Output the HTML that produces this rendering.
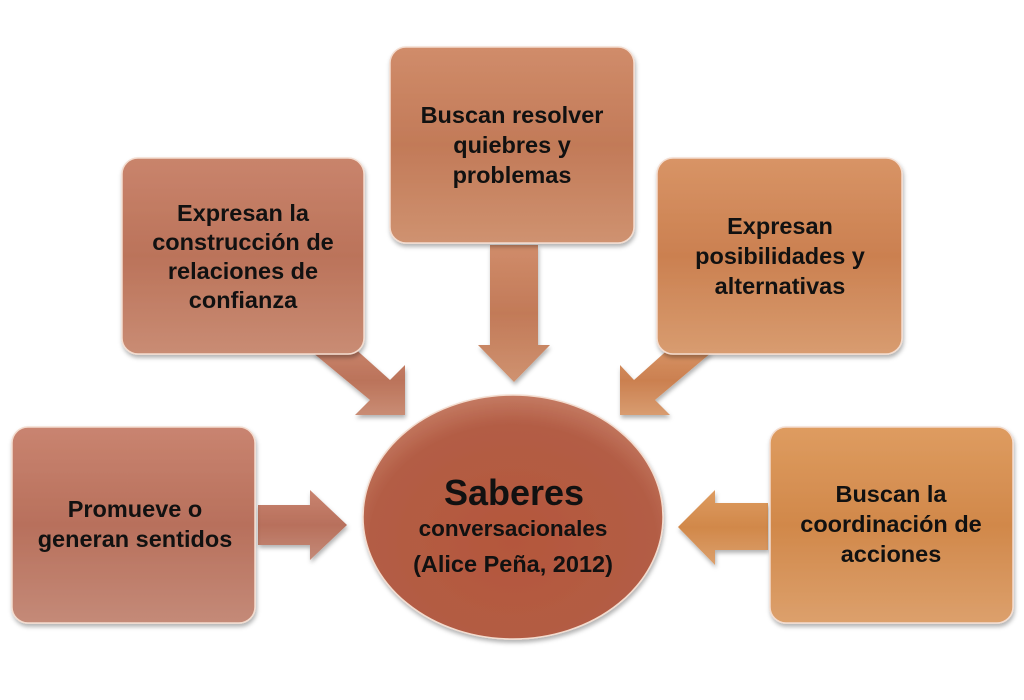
<!DOCTYPE html>
<html><head><meta charset="utf-8"><style>
html,body{margin:0;padding:0;background:#fff;}
svg{display:block;}
text{font-family:"Liberation Sans",sans-serif;font-weight:bold;fill:#111;text-anchor:middle;}
</style></head><body>
<svg width="1024" height="700" viewBox="0 0 1024 700">
<defs>
<linearGradient id="gL" x1="0" y1="0" x2="0" y2="1"><stop offset="0" stop-color="#c98470"/><stop offset="0.5" stop-color="#b8705c"/><stop offset="1" stop-color="#c48a78"/></linearGradient>
<linearGradient id="gLU" x1="0" y1="0" x2="0" y2="1"><stop offset="0" stop-color="#c9846c"/><stop offset="0.5" stop-color="#bb735a"/><stop offset="1" stop-color="#c98c74"/></linearGradient>
<linearGradient id="gT" x1="0" y1="0" x2="0" y2="1"><stop offset="0" stop-color="#d08c6a"/><stop offset="0.5" stop-color="#c27a58"/><stop offset="1" stop-color="#cf9270"/></linearGradient>
<linearGradient id="gRU" x1="0" y1="0" x2="0" y2="1"><stop offset="0" stop-color="#d89466"/><stop offset="0.5" stop-color="#cb8050"/><stop offset="1" stop-color="#d89c70"/></linearGradient>
<linearGradient id="gR" x1="0" y1="0" x2="0" y2="1"><stop offset="0" stop-color="#de9c60"/><stop offset="0.5" stop-color="#d1884a"/><stop offset="1" stop-color="#dca06c"/></linearGradient>
<radialGradient id="gC" cx="0.5" cy="0.6" r="0.6"><stop offset="0" stop-color="#b4573c"/><stop offset="0.8" stop-color="#b35d45"/><stop offset="1" stop-color="#c47a62"/></radialGradient>
<filter id="sh" x="-10%" y="-10%" width="130%" height="130%"><feDropShadow dx="1" dy="3" stdDeviation="2" flood-color="#000" flood-opacity="0.3"/></filter>
</defs>

<g filter="url(#sh)">
<polygon points="490,245 538,245 538,345 550,345 514,382 478,345 490,345" fill="url(#gT)"/>
<polygon points="312,352 352,346 390,380 405,365 405,415 355,415 370,400" fill="url(#gLU)"/>
<polygon points="712,352 672,346 634,380 620,365 620,415 670,415 655,400" fill="url(#gRU)"/>
<polygon points="258,505 310,505 310,490 347,525 310,560 310,545 258,545" fill="url(#gL)"/>
<polygon points="768,503 715,503 715,490 678,527 715,565 715,550 768,550" fill="url(#gR)"/>
</g>

<g filter="url(#sh)" stroke="#f3dccf" stroke-width="1.5">
<rect x="390" y="47" width="244" height="196" rx="16" fill="url(#gT)"/>
<rect x="122" y="158" width="242" height="196" rx="16" fill="url(#gLU)"/>
<rect x="657" y="158" width="245" height="196" rx="16" fill="url(#gRU)"/>
<rect x="12" y="427" width="243" height="196" rx="16" fill="url(#gL)"/>
<rect x="770" y="427" width="243" height="196" rx="16" fill="url(#gR)"/>
<ellipse cx="513" cy="517" rx="150" ry="122" fill="url(#gC)"/>
</g>

<g font-size="23.5">
<text x="512" y="123">Buscan resolver</text>
<text x="512" y="153">quiebres y</text>
<text x="512" y="183">problemas</text>

<text x="243" y="221">Expresan la</text>
<text x="243" y="250">construcción de</text>
<text x="243" y="279">relaciones de</text>
<text x="243" y="308">confianza</text>

<text x="780" y="234">Expresan</text>
<text x="780" y="264">posibilidades y</text>
<text x="780" y="294">alternativas</text>

<text x="135" y="517">Promueve o</text>
<text x="135" y="547">generan sentidos</text>

<text x="891" y="502">Buscan la</text>
<text x="891" y="532">coordinación de</text>
<text x="891" y="562">acciones</text>
</g>
<text x="514" y="505" font-size="36">Saberes</text>
<text x="513" y="536" font-size="22.5">conversacionales</text>
<text x="513" y="572" font-size="23.5">(Alice Peña, 2012)</text>
</svg>
</body></html>
